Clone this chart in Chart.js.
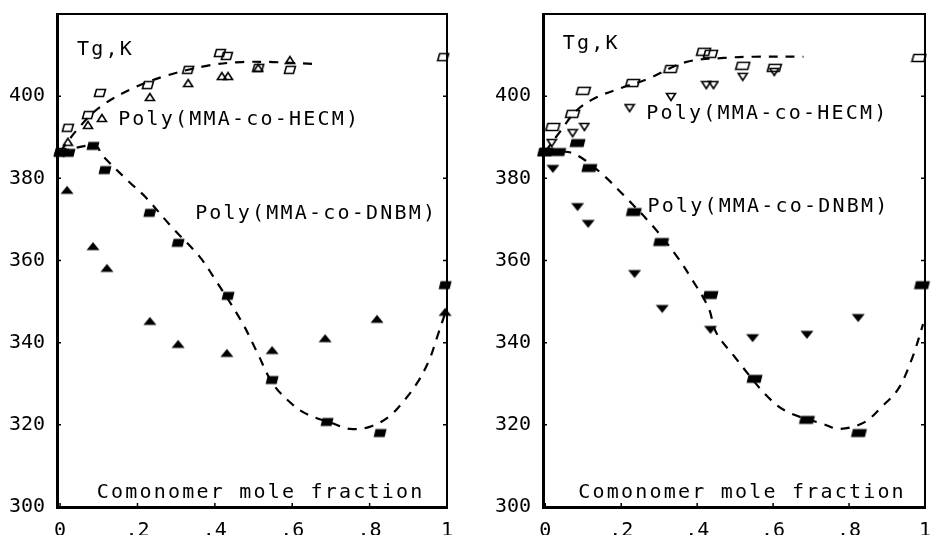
<!DOCTYPE html>
<html>
<head>
<meta charset="utf-8">
<script src="https://cdn.jsdelivr.net/npm/chart.js@4.4.1/dist/chart.umd.min.js"></script>
<style>
  html, body { margin: 0; padding: 0; background: #fff; }
  #wrap { position: relative; width: 932px; height: 535px; overflow: hidden; }
  .panel { position: absolute; top: 0; width: 466px; height: 535px; }
  #left { left: 0; }
  #right { left: 466px; }
</style>
</head>
<body>
<div id="wrap">
  <div class="panel" id="left"><canvas id="chartA" width="466" height="535"></canvas></div>
  <div class="panel" id="right"><canvas id="chartB" width="466" height="535"></canvas></div>
</div>
<script>
// axis ticks
const xTickValues = [0, 0.2, 0.4, 0.6, 0.8, 1];
const xTickLabels = ['0', '.2', '.4', '.6', '.8', '1'];
const yTickValues = [300, 320, 340, 360, 380, 400];

// Left panel
    // Poly(MMA-co-HECM), open squares
const aHecmSqX = [0, 0.02, 0.072, 0.103, 0.227, 0.331, 0.413, 0.431, 0.512, 0.594, 0.99];
const aHecmSqY = [386.4, 392.3, 395.4, 400.8, 402.7, 406.4, 410.5, 409.8, 406.9, 406.4, 409.5];
    // Poly(MMA-co-HECM), open triangles
const aHecmTriX = [0.02, 0.072, 0.108, 0.232, 0.331, 0.418, 0.434, 0.512, 0.594];
const aHecmTriY = [388.9, 393.0, 394.7, 399.8, 403.2, 404.9, 404.9, 406.9, 408.8];
    // Poly(MMA-co-DNBM), filled squares
const aDnbmSqX = [0, 0.023, 0.085, 0.116, 0.232, 0.305, 0.434, 0.548, 0.69, 0.827, 0.995];
const aDnbmSqY = [386.2, 386.2, 387.9, 382.0, 371.6, 364.3, 351.4, 330.9, 320.7, 318.0, 354.0];
    // Poly(MMA-co-DNBM), filled triangles
const aDnbmTriX = [0.018, 0.085, 0.121, 0.232, 0.305, 0.431, 0.548, 0.685, 0.819, 0.995];
const aDnbmTriY = [377.2, 363.5, 358.2, 345.3, 339.7, 337.5, 338.2, 341.1, 345.8, 347.5];
    // dashed curves
const aHecmCurveX = [0, 0.05, 0.105, 0.19, 0.275, 0.385, 0.47, 0.55, 0.66];
const aHecmCurveY = [386.5, 392.5, 397.5, 402, 405, 407.5, 408.3, 408.3, 407.8];
const aDnbmCurveX = [0, 0.09, 0.11, 0.18, 0.22, 0.29, 0.36, 0.40, 0.47, 0.51, 0.55, 0.6, 0.64, 0.7, 0.75, 0.8, 0.85, 0.89, 0.925, 0.955, 0.975, 1.0];
const aDnbmCurveY = [386.5, 388, 385.5, 379, 375.5, 368, 361, 355.5, 345, 337.5, 330, 325, 322.5, 320.5, 319, 319.5, 322, 326, 330.5, 336, 341.5, 348.5];

// Right panel
    // Poly(MMA-co-HECM), open squares
const bHecmSqX = [0, 0.02, 0.072, 0.1, 0.23, 0.331, 0.417, 0.435, 0.52, 0.603, 0.984];
const bHecmSqY = [386.4, 392.5, 395.7, 401.3, 403.2, 406.6, 410.8, 410.3, 407.4, 406.9, 409.3];
    // Poly(MMA-co-HECM), open down triangles
const bHecmTriX = [0.017, 0.072, 0.103, 0.222, 0.331, 0.424, 0.443, 0.52, 0.603];
const bHecmTriY = [388.6, 391.0, 392.5, 397.1, 399.8, 402.7, 402.7, 404.7, 405.9];
    // Poly(MMA-co-DNBM), filled squares
const bDnbmSqX = [0, 0.034, 0.085, 0.116, 0.233, 0.305, 0.435, 0.551, 0.689, 0.826, 0.992];
const bDnbmSqY = [386.4, 386.4, 388.6, 382.5, 371.8, 364.5, 351.6, 331.2, 321.2, 318.0, 354.0];
    // Poly(MMA-co-DNBM), filled down triangles
const bDnbmTriX = [0.02, 0.085, 0.113, 0.235, 0.308, 0.435, 0.546, 0.689, 0.824];
const bDnbmTriY = [382.3, 373.0, 368.9, 356.7, 348.2, 343.1, 341.1, 341.9, 346.0];
    // dashed curves
const bHecmCurveX = [0, 0.04, 0.08, 0.13, 0.2, 0.27, 0.37, 0.47, 0.55, 0.68];
const bHecmCurveY = [386.5, 391.5, 396.3, 399.5, 402, 404.2, 408.3, 409.3, 409.6, 409.6];
const bDnbmCurveX = [0, 0.06, 0.1, 0.155, 0.2, 0.28, 0.345, 0.385, 0.43, 0.45, 0.5, 0.58, 0.635, 0.735, 0.775, 0.84, 0.885, 0.93, 0.966, 0.995];
const bDnbmCurveY = [386.3, 386.4, 384.7, 380.6, 376.5, 368.7, 361.2, 355.6, 348.5, 342.5, 336.4, 327.4, 323.3, 320.1, 319.0, 320.6, 324.3, 328.8, 336.2, 344.5];

//utils
function zip(xs, ys) {
    return xs.map((x, i) => ({x: x, y: ys[i]}));
}

// marker images used as pointStyle
function makeMarker(kind, filled, w, h) {
    const c = document.createElement('canvas');
    c.width = w + 3;
    c.height = h + 3;
    const g = c.getContext('2d');
    g.fillStyle = '#000';
    g.strokeStyle = '#000';
    g.lineWidth = 1.6;
    g.lineJoin = 'miter';
    const o = 1.5;
    g.beginPath();
    if (kind === 'para') {
        g.moveTo(o + 2, o); g.lineTo(o + w, o); g.lineTo(o + w - 2, o + h); g.lineTo(o, o + h);
    } else if (kind === 'up') {
        g.moveTo(o + w / 2, o); g.lineTo(o + w, o + h); g.lineTo(o, o + h);
    } else {
        g.moveTo(o, o); g.lineTo(o + w, o); g.lineTo(o + w / 2, o + h);
    }
    g.closePath();
    if (filled) g.fill(); else g.stroke();
    return c;
}

const font = '"DejaVu Sans Mono", "Liberation Mono", monospace';

// frame, inward ticks and the written notes
const framePlugin = {
    id: 'frame',
    afterDatasetsDraw(chart, args, opts) {
        const ctx = chart.ctx;
        const a = chart.chartArea;
        const xs = chart.scales.x;
        const ys = chart.scales.y;
        ctx.save();
        ctx.strokeStyle = '#000';
        ctx.lineWidth = 2;
        ctx.beginPath();
        ctx.moveTo(a.left, a.top);
        ctx.lineTo(a.right, a.top);
        ctx.lineTo(a.right, a.bottom);
        ctx.stroke();
        ctx.lineWidth = 1.5;
        ctx.beginPath();
        yTickValues.forEach((v) => {
            const py = ys.getPixelForValue(v);
            ctx.moveTo(a.left, py); ctx.lineTo(a.left + 4, py);
            ctx.moveTo(a.right, py); ctx.lineTo(a.right - 4, py);
        });
        xTickValues.forEach((v) => {
            const px = xs.getPixelForValue(v);
            ctx.moveTo(px, a.bottom); ctx.lineTo(px, a.bottom - 4);
        });
        ctx.stroke();
        ctx.fillStyle = '#000';
        ctx.font = '20px ' + font;
        ctx.letterSpacing = '2.2px';
        ctx.textBaseline = 'middle';
        ctx.textAlign = 'left';
        opts.notes.forEach((n) => {
            ctx.fillText(n.text, xs.getPixelForValue(n.x), ys.getPixelForValue(n.y));
        });
        ctx.restore();
    }
};

function scatterSet(data, style) {
    return {data: data, pointStyle: style, pointRadius: 6, showLine: false, clip: false, order: 1};
}
function curveSet(data) {
    return {data: data, showLine: true, pointRadius: 0, borderColor: '#000', borderWidth: 2.2,
        borderDash: [9, 8], tension: 0.35, fill: false, clip: false, order: 2};
}

function makeChart(id, datasets, xMin, yAxisWidth, rightPad, notes) {
    return new Chart(document.getElementById(id).getContext('2d'), {
        type: 'scatter',
        data: {datasets: datasets},
        plugins: [framePlugin],
        options: {
            responsive: false,
            animation: false,
            layout: {padding: {top: 14, right: rightPad, left: 0, bottom: 0}},
            plugins: {
                legend: {display: false},
                tooltip: {enabled: false},
                frame: {notes: notes}
            },
            scales: {
                x: {
                    type: 'linear',
                    min: xMin,
                    max: 1.0,
                    afterBuildTicks: (s) => { s.ticks = xTickValues.map((v) => ({value: v})); },
                    afterFit: (s) => { s.height = 28; s.paddingLeft = 0; s.paddingRight = 0; },
                    grid: {display: false, drawTicks: false},
                    border: {display: true, color: '#000', width: 3},
                    ticks: {
                        padding: 12,
                        color: '#000',
                        maxRotation: 0,
                        autoSkip: false,
                        font: {family: font, size: 20},
                        callback: (v) => xTickLabels[xTickValues.indexOf(v)]
                    }
                },
                y: {
                    type: 'linear',
                    min: 300,
                    max: 420,
                    afterBuildTicks: (s) => { s.ticks = yTickValues.map((v) => ({value: v})); },
                    afterFit: (s) => { s.width = yAxisWidth; s.paddingTop = 0; s.paddingBottom = 0; },
                    grid: {display: false, drawTicks: false},
                    border: {display: true, color: '#000', width: 3},
                    ticks: {
                        padding: 12,
                        color: '#000',
                        font: {family: font, size: 20}
                    }
                }
            }
        }
    });
}

// left panel
const aOpenSq = makeMarker('para', false, 11, 7);
const aOpenTri = makeMarker('up', false, 9, 7);
const aFillSq = makeMarker('para', true, 13, 8);
const aFillTri = makeMarker('up', true, 13, 8);

makeChart('chartA', [
    scatterSet(zip(aHecmSqX, aHecmSqY), aOpenSq),
    scatterSet(zip(aHecmTriX, aHecmTriY), aOpenTri),
    scatterSet(zip(aDnbmSqX, aDnbmSqY), aFillSq),
    scatterSet(zip(aDnbmTriX, aDnbmTriY), aFillTri),
    curveSet(zip(aHecmCurveX, aHecmCurveY)),
    curveSet(zip(aDnbmCurveX, aDnbmCurveY))
], -0.008, 57, 19, [
    {text: 'Tg,K', x: 0.044, y: 411.4},
    {text: 'Poly(MMA-co-HECM)', x: 0.15, y: 394.3},
    {text: 'Poly(MMA-co-DNBM)', x: 0.349, y: 371.3},
    {text: 'Comonomer mole fraction', x: 0.095, y: 303.4}
]);

// right panel
const bOpenSq = makeMarker('para', false, 14, 7);
const bOpenTri = makeMarker('down', false, 9, 7);
const bFillSq = makeMarker('para', true, 16, 8);
const bFillTri = makeMarker('down', true, 13, 8);

makeChart('chartB', [
    scatterSet(zip(bHecmSqX, bHecmSqY), bOpenSq),
    scatterSet(zip(bHecmTriX, bHecmTriY), bOpenTri),
    scatterSet(zip(bDnbmSqX, bDnbmSqY), bFillSq),
    scatterSet(zip(bDnbmTriX, bDnbmTriY), bFillTri),
    curveSet(zip(bHecmCurveX, bHecmCurveY)),
    curveSet(zip(bDnbmCurveX, bDnbmCurveY))
], -0.006, 77, 1, [
    {text: 'Tg,K', x: 0.046, y: 412.8},
    {text: 'Poly(MMA-co-HECM)', x: 0.266, y: 395.7},
    {text: 'Poly(MMA-co-DNBM)', x: 0.269, y: 373},
    {text: 'Comonomer mole fraction', x: 0.087, y: 303.4}
]);
</script>
</body>
</html>
